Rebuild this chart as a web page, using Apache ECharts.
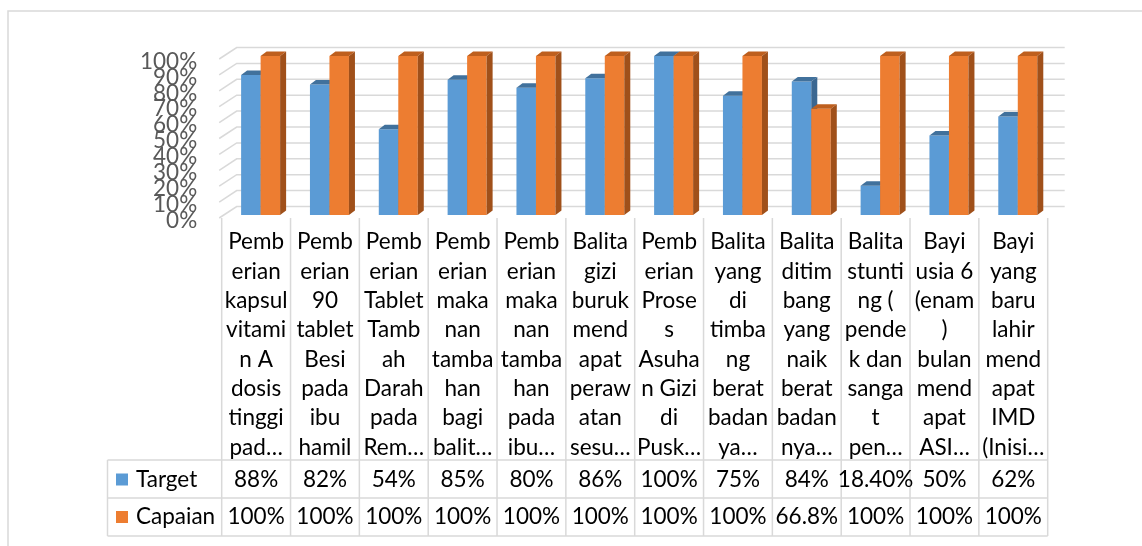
<!DOCTYPE html>
<html>
<head>
<meta charset="utf-8">
<script src="https://cdn.jsdelivr.net/npm/echarts@6/dist/echarts.min.js"></script>
<style>
html,body{margin:0;padding:0;background:#fff}
#main{width:1142px;height:546px}
</style>
</head>
<body>
<div id="main"></div>
<script>
var categories = [
    'Pemb\nerian\nkapsul\nvitami\nn A\ndosis\ntinggi\npad\u2026',
    'Pemb\nerian\n90\ntablet\nBesi\npada\nibu\nhamil',
    'Pemb\nerian\nTablet\nTamb\nah\nDarah\npada\nRem\u2026',
    'Pemb\nerian\nmaka\nnan\ntamba\nhan\nbagi\nbalit\u2026',
    'Pemb\nerian\nmaka\nnan\ntamba\nhan\npada\nibu\u2026',
    'Balita\ngizi\nburuk\nmend\napat\nperaw\natan\nsesu\u2026',
    'Pemb\nerian\nProse\ns\nAsuha\nn Gizi\ndi\nPusk\u2026',
    'Balita\nyang\ndi\ntimba\nng\nberat\nbadan\nya\u2026',
    'Balita\nditim\nbang\nyang\nnaik\nberat\nbadan\nnya\u2026',
    'Balita\nstunti\nng (\npende\nk dan\nsanga\nt\npen\u2026',
    'Bayi\nusia 6\n(enam\n)\nbulan\nmend\napat\nASI\u2026',
    'Bayi\nyang\nbaru\nlahir\nmend\napat\nIMD\n(Inisi\u2026'
];
var target = [88, 82, 54, 85, 80, 86, 100, 75, 84, 18.4, 50, 62];
var capaian = [100, 100, 100, 100, 100, 100, 100, 100, 66.8, 100, 100, 100];
var targetLabels = ['88%', '82%', '54%', '85%', '80%', '86%', '100%', '75%', '84%', '18.40%', '50%', '62%'];
var capaianLabels = ['100%', '100%', '100%', '100%', '100%', '100%', '100%', '100%', '66.8%', '100%', '100%', '100%'];
var yTicks = [0, 10, 20, 30, 40, 50, 60, 70, 80, 90, 100];

var myChart = echarts.init(document.getElementById('main'));

var gridLeft = 221.7, gridWidth = 826, gridTop = 56, gridHeight = 159;
var colW = gridWidth / categories.length;
var lineColor = '#d9d9d9';
var font = 'Lato, "Liberation Sans", sans-serif';
var fs = 22.5;

// 3D bar: front face, top and right side
function barItem(offset, barW, front, top, side) {
    return function (params, api) {
        var c = api.coord([api.value(0), api.value(1)]);
        var b = api.coord([api.value(0), 0]);
        var x = c[0] + offset, y = c[1], w = barW, dx = 6, dy = -4.5;
        return {
            type: 'group',
            children: [
                {type: 'rect', shape: {x: x, y: y, width: w, height: b[1] - y}, style: {fill: front}},
                {type: 'polygon', shape: {points: [[x, y], [x + dx, y + dy], [x + w + dx, y + dy], [x + w, y]]}, style: {fill: top}},
                {type: 'polygon', shape: {points: [[x + w, y], [x + w + dx, y + dy], [x + w + dx, b[1] + dy], [x + w, b[1]]]}, style: {fill: side}}
            ]
        };
    };
}

// walls: left side diagonal + back horizontal line per tick, plus the tick label
function wallItem(params, api) {
    var cs = params.coordSys;
    var v = api.value(0);
    var y = api.coord([0, v])[1];
    return {
        type: 'group',
        children: [
            {
                type: 'polyline',
                shape: {points: [[cs.x - 2.5, y + 3], [cs.x + 15, y - 8.5], [cs.x + cs.width + 17, y - 8.5]]},
                style: {stroke: lineColor, lineWidth: 1.5, fill: null}
            },
            {
                type: 'text',
                x: cs.x - 24.5,
                y: y + 5.5,
                style: {text: v + '%', fill: '#595959', font: fs + 'px ' + font, align: 'right', verticalAlign: 'middle'}
            }
        ]
    };
}

// table lines
var graphics = [];
graphics.push({type: 'rect', shape: {x: 8, y: 11, width: 1200, height: 600}, style: {stroke: lineColor, lineWidth: 1.5, fill: null}});
for (var k = 0; k <= categories.length; k++) {
    var lx = gridLeft + k * colW;
    graphics.push({type: 'line', shape: {x1: lx, y1: 218, x2: lx, y2: 536}, style: {stroke: lineColor, lineWidth: 1.5}});
}
[460, 498, 536].forEach(function (ly) {
    graphics.push({type: 'line', shape: {x1: 107.5, y1: ly, x2: gridLeft + gridWidth, y2: ly}, style: {stroke: lineColor, lineWidth: 1.5}});
});
graphics.push({type: 'line', shape: {x1: 107.5, y1: 460, x2: 107.5, y2: 536}, style: {stroke: lineColor, lineWidth: 1.5}});

function tableAxis(labels, offset) {
    return {
        type: 'category',
        data: labels,
        position: 'bottom',
        offset: offset,
        axisLine: {show: false},
        axisTick: {show: false},
        axisLabel: {interval: 0, margin: 4.5, color: '#000', fontFamily: font, fontSize: fs, lineHeight: 20}
    };
}

var option = {
    animation: false,
    backgroundColor: '#fff',
    graphic: graphics,
    legend: {
        data: ['Target', 'Capaian'],
        orient: 'vertical',
        left: 116,
        top: 467.5,
        padding: 0,
        itemGap: 13.5,
        itemWidth: 12,
        itemHeight: 12,
        icon: 'rect',
        selectedMode: false,
        textStyle: {color: '#000', fontFamily: font, fontSize: fs, lineHeight: 24, padding: [0, 0, 0, 3]}
    },
    grid: {left: gridLeft, top: gridTop, width: gridWidth, height: gridHeight, outerBoundsMode: 'none'},
    xAxis: [
        {
            type: 'category',
            data: categories,
            axisLine: {show: false},
            axisTick: {show: false},
            axisLabel: {interval: 0, margin: 12.5, color: '#000', fontFamily: font, fontSize: fs, lineHeight: 29.3}
        },
        tableAxis(targetLabels, 250),
        tableAxis(capaianLabels, 287.5)
    ],
    yAxis: {
        type: 'value',
        min: 0,
        max: 100,
        interval: 10,
        splitLine: {show: false},
        axisLine: {show: false},
        axisTick: {show: false},
        axisLabel: {show: false}
    },
    series: [
        {
            name: 'wall',
            type: 'custom',
            silent: true,
            clip: false,
            renderItem: wallItem,
            data: yTicks.map(function (v) { return [v]; })
        },
        {
            name: 'Target',
            type: 'custom',
            itemStyle: {color: '#5B9BD5'},
            renderItem: barItem(-15, 19.5, '#5B9BD5', '#41719C', '#3B6791'),
            data: target.map(function (v, i) { return [i, v]; })
        },
        {
            name: 'Capaian',
            type: 'custom',
            itemStyle: {color: '#ED7D31'},
            renderItem: barItem(4.5, 19.5, '#ED7D31', '#BE5F1E', '#A0501A'),
            data: capaian.map(function (v, i) { return [i, v]; })
        }
    ]
};

myChart.setOption(option);
window.onresize = function () {
    myChart.resize();
};
</script>
</body>
</html>
